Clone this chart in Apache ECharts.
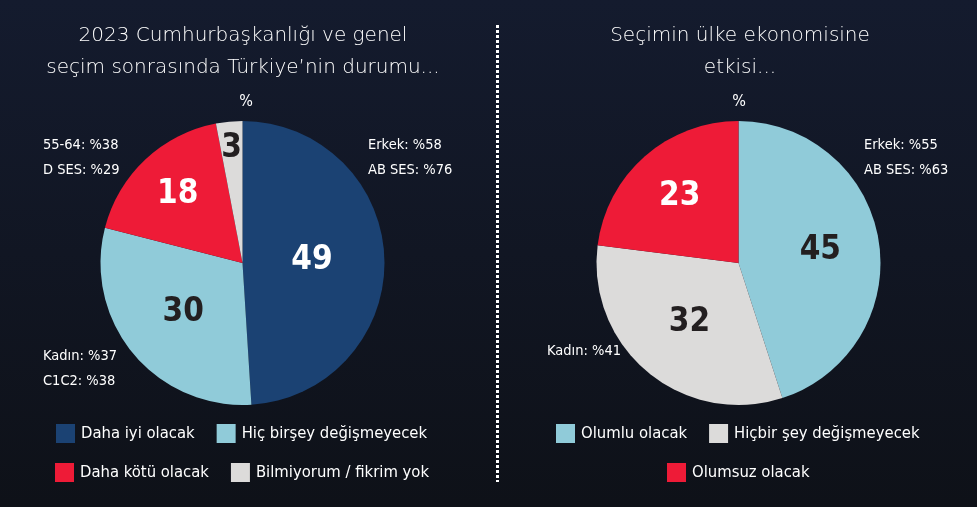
<!DOCTYPE html>
<html>
<head>
<meta charset="utf-8">
<script src="https://cdn.jsdelivr.net/npm/echarts@6/dist/echarts.min.js"></script>
<style>
  html, body { margin: 0; padding: 0; background: #10141f; }
  #main { width: 977px; height: 507px; }
</style>
</head>
<body>
<div id="main"></div>
<script>
// veriler
var leftCats = ['Daha iyi olacak', 'Hiç birşey değişmeyecek', 'Daha kötü olacak', 'Bilmiyorum / fikrim yok'];
var leftVals = [49, 30, 18, 3];
var rightCats = ['Olumlu olacak', 'Hiçbir şey değişmeyecek', 'Olumsuz olacak'];
var rightVals = [45, 32, 23];

var leftTitle = '2023 Cumhurbaşkanlığı ve genel\nseçim sonrasında Türkiye’nin durumu...';
var rightTitle = 'Seçimin ülke ekonomisine\netkisi...';
var leftNotes = ['Erkek: %58\nAB SES: %76', '55-64: %38\nD SES: %29', 'Kadın: %37\nC1C2: %38'];
var rightNotes = ['Erkek: %55\nAB SES: %63', 'Kadın: %41'];

var myChart = echarts.init(document.getElementById('main'));

var NARROW = '"DejaVu Sans Condensed", "DejaVu Sans", sans-serif';
var THIN = '"DejaVu Sans", sans-serif';
var LEGEND_SIZE = 16.5;

var leftColors = ['#1b4273', '#90cbd9', '#ee1b37', '#dcdbda'];
var leftLabelColors = ['#fff', '#231f20', '#fff', '#231f20'];
var rightColors = ['#90cbd9', '#dcdbda', '#ee1b37'];
var rightLabelColors = ['#231f20', '#231f20', '#fff'];

// pasta merkezleri ve etiket uzakligi (yaricap orani)
var centers = [[242.5, 263], [738.5, 263]];
var labelFactors = [[0.47, 0.52, 0.64, 0.78], [0.56, 0.52, 0.6]];

function pieData(cats, vals, colors, labelColors) {
    return cats.map(function (c, i) {
        return {
            name: c,
            value: vals[i],
            itemStyle: { color: colors[i] },
            label: { color: labelColors[i] }
        };
    });
}

function noteText(text, x, y) {
    return {
        type: 'text', x: x, y: y, silent: true,
        style: {
            text: text, fill: '#fff', fontFamily: NARROW, fontSize: 14.5,
            lineHeight: 25, align: 'left', verticalAlign: 'top'
        }
    };
}

// lejant genisligini olcup pasta merkezine ortala
var measureCtx = document.createElement('canvas').getContext('2d');
measureCtx.font = LEGEND_SIZE + 'px ' + NARROW;
function legendLeft(names, cx) {
    var w = 0;
    names.forEach(function (n, i) {
        w += 19 + 6 + measureCtx.measureText(n).width;
        if (i > 0) w += 22;
    });
    return Math.round(cx - w / 2);
}

function legendBox(names, cx, top) {
    return {
        data: names,
        left: legendLeft(names, cx),
        top: top,
        width: 480,
        orient: 'horizontal',
        padding: 0,
        itemGap: 22,
        itemWidth: 19,
        itemHeight: 19,
        icon: 'rect',
        selectedMode: false,
        textStyle: { color: '#fff', fontFamily: NARROW, fontSize: LEGEND_SIZE, padding: [0, 0, 0, 1] }
    };
}

var pieBase = {
    type: 'pie',
    radius: 142,
    startAngle: 90,
    clockwise: true,
    avoidLabelOverlap: false,
    silent: true,
    itemStyle: { borderWidth: 0 },
    label: {
        show: true,
        position: 'inside',
        formatter: '{c}',
        fontFamily: NARROW,
        fontWeight: 'bold',
        fontSize: 33
    },
    labelLine: { show: false },
    emphasis: { disabled: true },
    labelLayout: function (p) {
        var c = centers[p.seriesIndex];
        var dx = p.labelRect.x + p.labelRect.width / 2 - c[0];
        var dy = p.labelRect.y + p.labelRect.height / 2 - c[1];
        var k = labelFactors[p.seriesIndex][p.dataIndex] / 0.5 - 1;
        return { dx: dx * k, dy: dy * k };
    }
};

var option = {
    backgroundColor: {
        type: 'linear', x: 0, y: 0, x2: 0, y2: 1,
        colorStops: [{ offset: 0, color: '#141b2e' }, { offset: 1, color: '#0e1118' }]
    },
    legend: [
        legendBox(leftCats.slice(0, 2), 242, 424),
        legendBox(leftCats.slice(2), 242, 463),
        legendBox(rightCats.slice(0, 2), 738, 424),
        legendBox(rightCats.slice(2), 738, 463)
    ],
    series: [
        Object.assign({}, pieBase, {
            name: 'durum',
            center: centers[0],
            data: pieData(leftCats, leftVals, leftColors, leftLabelColors)
        }),
        Object.assign({}, pieBase, {
            name: 'ekonomi',
            center: centers[1],
            data: pieData(rightCats, rightVals, rightColors, rightLabelColors)
        })
    ],
    graphic: [
        {
            type: 'text', x: 243, y: 20, silent: true,
            style: {
                text: leftTitle, fill: '#fff', fontFamily: THIN, fontWeight: 200,
                fontSize: 20, lineHeight: 32, align: 'center', verticalAlign: 'top'
            }
        },
        {
            type: 'text', x: 740, y: 20, silent: true,
            style: {
                text: rightTitle, fill: '#fff', fontFamily: THIN, fontWeight: 200,
                fontSize: 20, lineHeight: 32, align: 'center', verticalAlign: 'top'
            }
        },
        {
            type: 'text', x: 246, y: 102, silent: true,
            style: { text: '%', fill: '#fff', fontFamily: NARROW, fontSize: 16, align: 'center', verticalAlign: 'middle' }
        },
        {
            type: 'text', x: 739, y: 102, silent: true,
            style: { text: '%', fill: '#fff', fontFamily: NARROW, fontSize: 16, align: 'center', verticalAlign: 'middle' }
        },
        noteText(leftNotes[0], 368, 133),
        noteText(leftNotes[1], 43, 133),
        noteText(leftNotes[2], 43, 344),
        noteText(rightNotes[0], 864, 133),
        noteText(rightNotes[1], 547, 339),
        {
            type: 'line', silent: true,
            shape: { x1: 497.5, y1: 25, x2: 497.5, y2: 482 },
            style: { stroke: '#fff', lineWidth: 3, lineDash: [3, 2] }
        }
    ]
};

myChart.setOption(option);
</script>
</body>
</html>
